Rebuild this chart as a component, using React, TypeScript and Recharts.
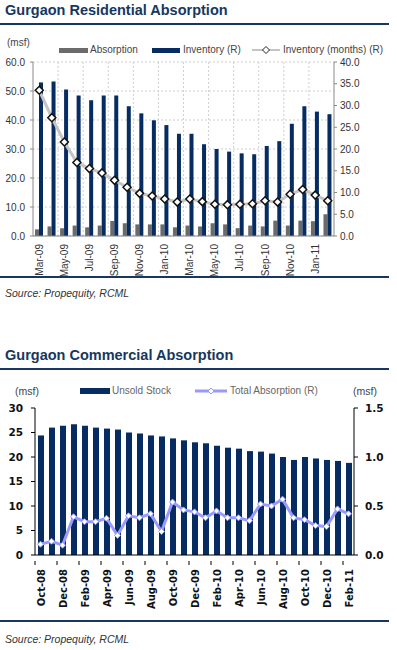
import React from 'react';
import { Bar, CartesianGrid, ComposedChart, Line, XAxis, YAxis } from 'recharts';

// residential (Mar-09 .. Feb-11)
const resMonths = [
  'Mar-09', 'Apr-09', 'May-09', 'Jun-09', 'Jul-09', 'Aug-09', 'Sep-09', 'Oct-09',
  'Nov-09', 'Dec-09', 'Jan-10', 'Feb-10', 'Mar-10', 'Apr-10', 'May-10', 'Jun-10',
  'Jul-10', 'Aug-10', 'Sep-10', 'Oct-10', 'Nov-10', 'Dec-10', 'Jan-11', 'Feb-11',
];
const resAbsorption = [
  2.3, 3.3, 2.7, 3.6, 3.0, 3.6, 5.2, 4.4, 4.0, 4.0, 4.0, 3.0,
  3.6, 3.3, 4.4, 4.0, 2.7, 3.6, 3.3, 5.3, 3.6, 5.3, 5.1, 7.5,
];
const resInventory = [
  35.3, 35.5, 33.7, 32.3, 31.2, 32.3, 32.3, 29.8, 28.2, 26.6, 25.5, 23.5,
  23.5, 21.1, 20.0, 19.4, 19.0, 18.8, 20.7, 21.8, 25.8, 29.8, 28.6, 28.0,
];
const resInventoryMonths = [
  33.5, 27.2, 21.6, 16.9, 15.5, 14.5, 12.8, 11.2, 9.8, 9.2, 8.5, 7.8,
  8.5, 7.9, 7.3, 7.2, 7.3, 7.4, 8.1, 7.8, 9.6, 10.7, 9.4, 8.1,
];
const resLeftTicks = [0, 10, 20, 30, 40, 50, 60];
const resRightTicks = [0, 5, 10, 15, 20, 25, 30, 35, 40];

// commercial (Oct-08 .. Feb-11)
const comMonths = [
  'Oct-08', 'Nov-08', 'Dec-08', 'Jan-09', 'Feb-09', 'Mar-09', 'Apr-09', 'May-09',
  'Jun-09', 'Jul-09', 'Aug-09', 'Sep-09', 'Oct-09', 'Nov-09', 'Dec-09', 'Jan-10',
  'Feb-10', 'Mar-10', 'Apr-10', 'May-10', 'Jun-10', 'Jul-10', 'Aug-10', 'Sep-10',
  'Oct-10', 'Nov-10', 'Dec-10', 'Jan-11', 'Feb-11',
];
const comUnsold = [
  24.4, 26.0, 26.4, 26.7, 26.4, 26.0, 25.8, 25.6, 25.0, 24.8, 24.4, 24.2,
  23.8, 23.4, 23.0, 22.8, 22.3, 21.9, 21.7, 21.2, 21.1, 20.7, 20.0, 19.4,
  20.0, 19.7, 19.4, 19.2, 18.8,
];
const comAbsorption = [
  0.11, 0.14, 0.1, 0.39, 0.34, 0.34, 0.375, 0.2, 0.4, 0.38, 0.42, 0.24,
  0.54, 0.46, 0.44, 0.38, 0.45, 0.38, 0.38, 0.35, 0.52, 0.5, 0.57, 0.38,
  0.36, 0.3, 0.29, 0.47, 0.42,
];
const comLeftTicks = [0, 5, 10, 15, 20, 25, 30];
const comRightTicks = [0, 0.5, 1.0, 1.5];

const resData = resMonths.map((m, i) => ({
  m,
  abs: resAbsorption[i],
  inv: resInventory[i],
  invM: resInventoryMonths[i],
}));
const comData = comMonths.map((m, i) => ({ m, unsold: comUnsold[i], abs: comAbsorption[i] }));

const NAVY = '#17375e';
const BAR_NAVY = '#062c61';
const BAR_GRAY = '#6b6b6b';
const NARROW = "'Liberation Sans Narrow', 'Liberation Sans', Arial, sans-serif";
const BOLD_FONT = "'DejaVu Sans', Verdana, sans-serif";

function diamond(cx: number, cy: number, r: number) {
  return `M${cx},${cy - r}L${cx + r},${cy}L${cx},${cy + r}L${cx - r},${cy}Z`;
}

function ResTick(props: any) {
  const { x, y, payload } = props;
  return (
    <text
      transform={`translate(${x},${y}) rotate(-90)`}
      textAnchor="end"
      dy={3.5}
      fontSize={10}
      fontFamily={NARROW}
      fill="#333"
    >
      {payload.value}
    </text>
  );
}

function ComTick(props: any) {
  const { x, y, payload } = props;
  return (
    <g>
      <line x1={x - 5.5} x2={x - 5.5} y1={y - 8} y2={y - 4} stroke="#000" />
      <text
        transform={`translate(${x},${y}) rotate(-90)`}
        textAnchor="end"
        dy={4}
        fontSize={10}
        fontWeight={700}
        fontFamily={BOLD_FONT}
        fill="#111"
      >
        {payload.value}
      </text>
    </g>
  );
}

const abs = (s: React.CSSProperties): React.CSSProperties => ({ position: 'absolute', ...s });

function Rule({ top }: { top: number }) {
  return <div style={abs({ left: 0, top, width: 389, height: 2, background: NAVY })} />;
}

function Title({ top, text }: { top: number; text: string }) {
  return (
    <div
      style={abs({
        left: 5,
        top,
        fontFamily: "'Liberation Sans', Arial, sans-serif",
        fontWeight: 700,
        fontSize: 14.5,
        color: NAVY,
        whiteSpace: 'nowrap',
      })}
    >
      {text}
    </div>
  );
}

function Source({ top }: { top: number }) {
  return (
    <div
      style={abs({
        left: 5,
        top,
        fontFamily: "'Liberation Sans', Arial, sans-serif",
        fontStyle: 'italic',
        fontSize: 10.5,
        color: '#333',
      })}
    >
      Source: Propequity, RCML
    </div>
  );
}

const legendText: React.CSSProperties = {
  fontFamily: NARROW,
  fontSize: 10,
  color: '#444',
  whiteSpace: 'nowrap',
};

function ResidentialChart() {
  return (
    <>
      <Title top={2} text="Gurgaon Residential Absorption" />
      <Rule top={23} />
      <div style={abs({ left: 7, top: 37, ...legendText })}>(msf)</div>
      <div style={abs({ left: 59, top: 48, width: 29, height: 5, background: BAR_GRAY })} />
      <div style={abs({ left: 90, top: 44, ...legendText })}>Absorption</div>
      <div style={abs({ left: 152, top: 48, width: 28, height: 5, background: BAR_NAVY })} />
      <div style={abs({ left: 183, top: 44, ...legendText })}>Inventory (R)</div>
      <svg style={abs({ left: 250, top: 45, overflow: 'visible' })} width={32} height={10}>
        <line x1={2} x2={30} y1={5} y2={5} stroke="#c4c4c4" strokeWidth={2} />
        <path d={diamond(16, 5, 3.5)} fill="#fff" stroke="#222" strokeWidth={1} />
      </svg>
      <div style={abs({ left: 283, top: 44, ...legendText })}>Inventory (months) (R)</div>
      <div style={abs({ left: 0, top: 40 })}>
        <ComposedChart
          width={397}
          height={240}
          data={resData}
          margin={{ top: 22, right: 33, bottom: 0, left: 0 }}
          barGap={0}
          barSize={4}
        >
          <CartesianGrid
            yAxisId="left"
            stroke="#cfcfcf"
            strokeDasharray="2 2"
            verticalCoordinatesGenerator={({ offset }: any) => {
              const step = (offset.width / resMonths.length) * 2;
              const xs: number[] = [];
              for (let k = 1; k < resMonths.length / 2; k++) xs.push(offset.left + step * k);
              return xs;
            }}
          />
          <XAxis
            dataKey="m"
            interval={1}
            height={44}
            tick={<ResTick />}
            tickLine={false}
            stroke="#888"
          />
          <YAxis
            yAxisId="left"
            width={33}
            domain={[0, 60]}
            ticks={resLeftTicks}
            tickFormatter={(v: number) => v.toFixed(1)}
            tickSize={3}
            tickMargin={5}
            stroke="#888"
            tick={{ fill: '#333', fontSize: 10, fontFamily: NARROW }}
          />
          <YAxis
            yAxisId="right"
            orientation="right"
            width={30}
            domain={[0, 40]}
            ticks={resRightTicks}
            tickFormatter={(v: number) => v.toFixed(1)}
            tickSize={3}
            tickMargin={3}
            stroke="#888"
            tick={{ fill: '#333', fontSize: 10, fontFamily: NARROW, textAnchor: 'start' }}
          />
          <Bar yAxisId="left" dataKey="abs" fill={BAR_GRAY} isAnimationActive={false} />
          <Bar yAxisId="right" dataKey="inv" fill={BAR_NAVY} isAnimationActive={false} />
          <Line
            yAxisId="right"
            dataKey="invM"
            stroke="#c4c4c4"
            strokeWidth={3}
            isAnimationActive={false}
            dot={(p: any) => (
              <path
                key={`d${p.index}`}
                d={diamond(p.cx, p.cy, 4)}
                fill="#fff"
                stroke="#111"
                strokeWidth={1.5}
              />
            )}
          />
        </ComposedChart>
      </div>
      <Rule top={276} />
      <Source top={287} />
    </>
  );
}

function CommercialChart() {
  return (
    <>
      <Title top={347} text="Gurgaon Commercial Absorption" />
      <Rule top={368} />
      <div style={abs({ left: 15, top: 385, ...legendText, fontSize: 10.5 })}>(msf)</div>
      <div style={abs({ left: 353, top: 385, ...legendText, fontSize: 10.5 })}>(msf)</div>
      <div style={abs({ left: 80, top: 388, width: 30, height: 6, background: BAR_NAVY })} />
      <div style={abs({ left: 112, top: 385, ...legendText, color: '#666' })}>Unsold Stock</div>
      <svg style={abs({ left: 194, top: 386, overflow: 'visible' })} width={34} height={10}>
        <line x1={1} x2={33} y1={5} y2={5} stroke="#9999ff" strokeWidth={3} />
        <path d={diamond(17, 5, 3)} fill="#fff" stroke="#9999ff" strokeWidth={1} />
      </svg>
      <div style={abs({ left: 230, top: 385, ...legendText, color: '#666' })}>Total Absorption (R)</div>
      <div style={abs({ left: 0, top: 400 })}>
        <ComposedChart
          width={397}
          height={210}
          data={comData}
          margin={{ top: 8, right: 0, bottom: 0, left: 0 }}
          barSize={6}
        >
          <XAxis
            dataKey="m"
            interval={1}
            height={55}
            tick={<ComTick />}
            tickLine={false}
            tickMargin={8}
            stroke="#000"
          />
          <YAxis
            yAxisId="left"
            width={35}
            domain={[0, 30]}
            ticks={comLeftTicks}
            tickSize={4}
            tickMargin={8}
            stroke="#000"
            tick={{ fill: '#111', fontSize: 10.5, fontWeight: 700, fontFamily: BOLD_FONT }}
          />
          <YAxis
            yAxisId="right"
            orientation="right"
            width={43}
            domain={[0, 1.5]}
            ticks={comRightTicks}
            tickFormatter={(v: number) => v.toFixed(1)}
            tickSize={4}
            tickMargin={7}
            stroke="#000"
            tick={{ fill: '#111', fontSize: 10.5, fontWeight: 700, fontFamily: BOLD_FONT, textAnchor: 'start' }}
          />
          <Bar yAxisId="left" dataKey="unsold" fill={BAR_NAVY} isAnimationActive={false} />
          <Line
            yAxisId="right"
            dataKey="abs"
            stroke="#9999ff"
            strokeWidth={3}
            isAnimationActive={false}
            dot={(p: any) => (
              <path
                key={`c${p.index}`}
                d={diamond(p.cx, p.cy, 3)}
                fill="#fff"
                stroke="#9999ff"
                strokeWidth={1}
              />
            )}
          />
        </ComposedChart>
      </div>
      <Rule top={620} />
      <Source top={633} />
    </>
  );
}

export default function App() {
  return (
    <div style={abs({ left: 0, top: 0, width: 397, height: 650, background: '#fff' })}>
      <ResidentialChart />
      <CommercialChart />
    </div>
  );
}
